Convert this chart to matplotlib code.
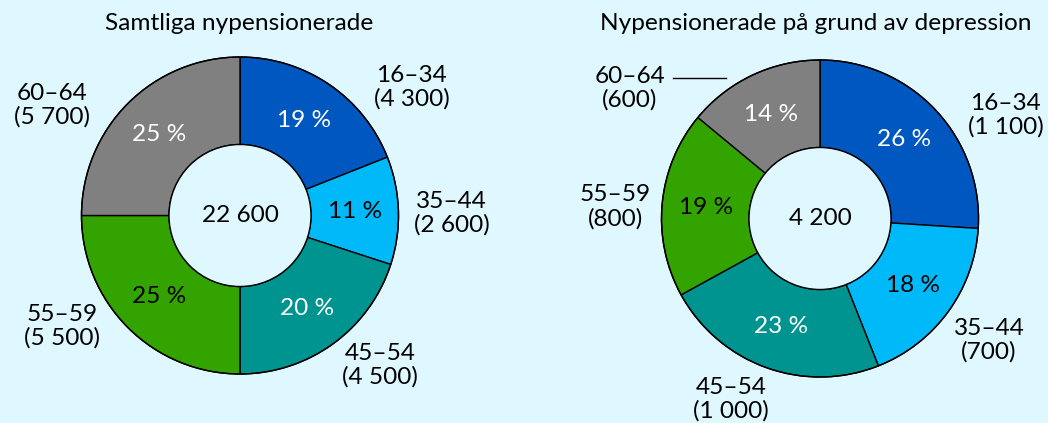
import matplotlib
matplotlib.use("Agg")
import matplotlib.pyplot as plt

plt.rcParams['font.family'] = ['Lato', 'DejaVu Sans']

# ---- data ----
age_groups = ["16–34", "35–44", "45–54", "55–59", "60–64"]

left_title = "Samtliga nypensionerade"
left_pct = [19, 11, 20, 25, 25]
left_counts = ["4 300", "2 600", "4 500", "5 500", "5 700"]
left_total = "22 600"

right_title = "Nypensionerade på grund av depression"
right_pct = [26, 18, 23, 19, 14]
right_counts = ["1 100", "700", "1 000", "800", "600"]
right_total = "4 200"

colors = ["#0057bf", "#00b9f9", "#009490", "#33a300", "#808080"]
pct_text_colors = ["white", "black", "white", "black", "white"]

BG = "#dff7ff"
W, H = 1048, 423
FS = 17.6

fig = plt.figure(figsize=(W / 100, H / 100), dpi=100, facecolor=BG)
ax = fig.add_axes([0, 0, 1, 1])
ax.set_xlim(0, W)
ax.set_ylim(0, H)
ax.set_aspect("equal")
ax.axis("off")
ax.set_facecolor(BG)

R = 158.5
HOLE = 71

# label offsets in units of outer radius, relative to each donut center
left_label_pos = [(1.082, 0.807), (1.335, 0.016), (0.883, -0.943),
                  (-1.12, -0.696), (-1.184, 0.693)]
right_label_pos = [(1.170, 0.653), (1.066, -0.768), (-0.562, -1.142),
                   (-1.293, 0.074), (-1.199, 0.820)]


def donut(cx_px, cy_px, pct, counts, total, title, title_x, label_pos):
    cx, cy = cx_px, H - cy_px
    wedges, _, autotexts = ax.pie(
        pct, colors=colors, startangle=90, counterclock=False,
        radius=R, center=(cx, cy),
        wedgeprops=dict(width=R - HOLE, edgecolor="black", linewidth=1.0),
        autopct=lambda p: f"{p:.0f} %", pctdistance=(R + HOLE) / 2 / R,
        textprops=dict(fontsize=FS), frame=True)
    for t, c in zip(autotexts, pct_text_colors):
        t.set_color(c)
    # outer circles
    ax.add_patch(plt.Circle((cx, cy), R, fill=False, edgecolor="black", linewidth=1.0))
    ax.add_patch(plt.Circle((cx, cy), HOLE, facecolor=BG, edgecolor="black", linewidth=1.0))
    ax.text(cx, cy, total, ha="center", va="center", fontsize=FS, color="black")
    for name, cnt, (dx, dy) in zip(age_groups, counts, label_pos):
        ax.text(cx + dx * R, cy + dy * R, f"{name}\n({cnt})", ha="center",
                va="center", fontsize=FS, color="black", linespacing=1.12)
    ax.text(title_x, H - 23, title, ha="center", va="center", fontsize=FS, color="black")
    return cx, cy


donut(240, 215.5, left_pct, left_counts, left_total, left_title, 239, left_label_pos)
rcx, rcy = donut(820, 218.5, right_pct, right_counts, right_total, right_title, 815.5, right_label_pos)

# leader line for 60–64 in the right donut
ax.plot([rcx - 0.927 * R, rcx - 0.595 * R], [rcy + 0.888 * R] * 2,
        color="black", linewidth=1.0)

ax.set_xlim(0, W)
ax.set_ylim(0, H)
ax.axis("off")

fig.savefig("out.png", dpi=100, facecolor=BG)
